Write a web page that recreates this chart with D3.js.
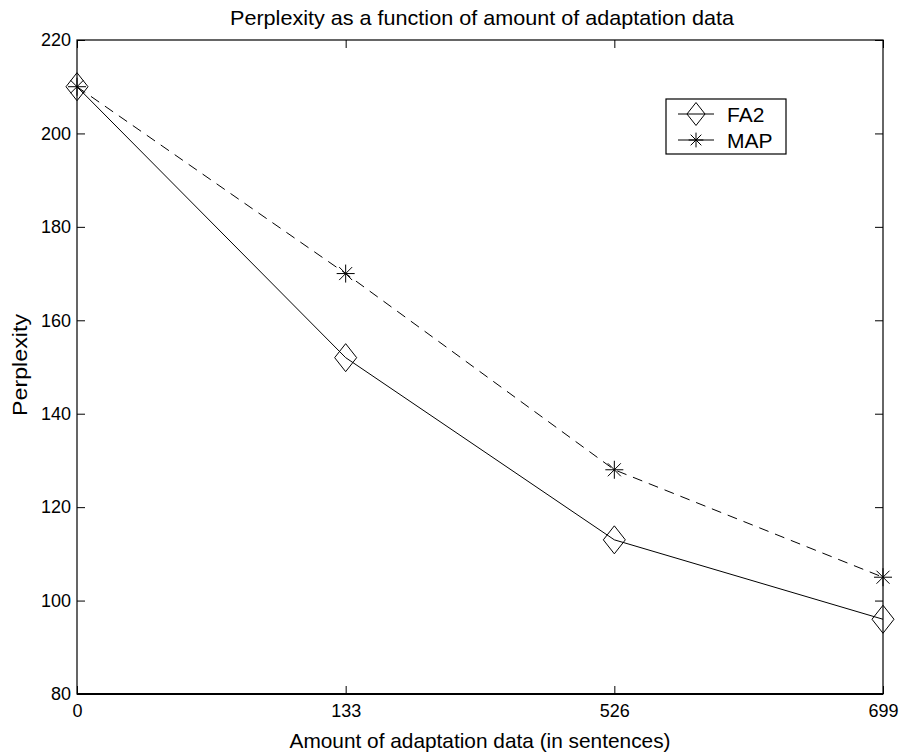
<!DOCTYPE html>
<html>
<head>
<meta charset="utf-8">
<script src="https://cdn.jsdelivr.net/npm/d3@7"></script>
<style>
  body { margin: 0; background: #fff; }
  text { font-family: "Liberation Sans", Arial, sans-serif; fill: #000; }
</style>
</head>
<body>
<div class="chart"></div>
<script>
var categories = ["0", "133", "526", "699"];
var fa2 = [210, 152, 113, 96];
var map = [210, 170, 128, 105];
var yTicks = [80, 100, 120, 140, 160, 180, 200, 220];

var W = 904, H = 756;
var margin = {top: 40, right: 21, bottom: 62, left: 77},
    width = W - margin.left - margin.right,
    height = H - margin.top - margin.bottom;

var svg = d3.select(".chart").append("svg")
  .attr("width", W).attr("height", H)
  .append("g")
  .attr("transform", "translate(" + margin.left + "," + margin.top + ")");

var x = d3.scalePoint().domain(categories).range([0, width]);
var y = d3.scaleLinear().domain([80, 220]).range([height, 0]);

// frame
svg.append("rect")
  .attr("width", width).attr("height", height)
  .attr("fill", "none").attr("stroke", "#000").attr("stroke-width", 1.2);
svg.append("line")
  .attr("x1", 0).attr("x2", width).attr("y1", height).attr("y2", height)
  .attr("stroke", "#000").attr("stroke-width", 2);

// axes, ticks point inward
function styleAxis(g) {
  g.select(".domain").remove();
  g.selectAll(".tick line").attr("stroke", "#000");
  g.selectAll(".tick text").style("font-size", "18px").attr("fill", "#000");
}
svg.append("g").attr("transform", "translate(0," + height + ")")
  .call(d3.axisBottom(x).tickSize(-8).tickPadding(10))
  .call(styleAxis);
svg.append("g")
  .call(d3.axisTop(x).tickSize(-8).tickFormat(""))
  .call(styleAxis);
svg.append("g")
  .call(d3.axisLeft(y).tickValues(yTicks).tickSize(-8).tickPadding(6))
  .call(styleAxis);
svg.append("g").attr("transform", "translate(" + width + ",0)")
  .call(d3.axisRight(y).tickValues(yTicks).tickSize(-8).tickFormat(""))
  .call(styleAxis);

// lines
var line = d3.line().x(function(d, i){ return x(categories[i]) }).y(function(d){ return y(d) });
svg.append("path").datum(map).attr("d", line)
  .attr("fill", "none").attr("stroke", "#000").attr("stroke-width", 1)
  .attr("stroke-dasharray", "10,7");
svg.append("path").datum(fa2).attr("d", line)
  .attr("fill", "none").attr("stroke", "#000").attr("stroke-width", 1);

// markers
function diamond(g, cx, cy, s) {
  s = s || 1;
  var hw = 11 * s, hh = 14 * s;
  g.append("path")
    .attr("d", "M" + cx + "," + (cy - hh) + "L" + (cx + hw) + "," + cy + "L" + cx + "," + (cy + hh) + "L" + (cx - hw) + "," + cy + "Z")
    .attr("fill", "none").attr("stroke", "#000").attr("stroke-width", 1);
}
function star(g, cx, cy, s) {
  s = s || 1;
  var r = 9 * s, d = 6.5 * s;
  g.append("path")
    .attr("d", "M" + (cx - r) + "," + cy + "H" + (cx + r) +
      "M" + cx + "," + (cy - r) + "V" + (cy + r) +
      "M" + (cx - d) + "," + (cy - d) + "L" + (cx + d) + "," + (cy + d) +
      "M" + (cx - d) + "," + (cy + d) + "L" + (cx + d) + "," + (cy - d))
    .attr("fill", "none").attr("stroke", "#000").attr("stroke-width", 1);
}
fa2.forEach(function(v, i){ diamond(svg, x(categories[i]), y(v)) });
map.forEach(function(v, i){ star(svg, x(categories[i]), y(v)) });

// legend
var lg = svg.append("g").attr("transform", "translate(" + (666 - margin.left) + "," + (99 - margin.top) + ")");
lg.append("rect").attr("width", 120).attr("height", 55)
  .attr("fill", "#fff").attr("stroke", "#000").attr("stroke-width", 1.2);
[["FA2", diamond], ["MAP", star]].forEach(function(item, i){
  var ly = 15 + i * 26;
  lg.append("line").attr("x1", 12).attr("x2", 48).attr("y1", ly).attr("y2", ly)
    .attr("stroke", "#000");
  item[1](lg, 30, ly, 0.82);
  lg.append("text").attr("x", 61).attr("y", ly + 8)
    .style("font-size", "21px").text(item[0]);
});

// titles
var root = d3.select("svg");
root.append("text").attr("x", 482).attr("y", 25).attr("text-anchor", "middle")
  .attr("textLength", 504).attr("lengthAdjust", "spacingAndGlyphs")
  .style("font-size", "21px").text("Perplexity as a function of amount of adaptation data");
root.append("text").attr("x", 480).attr("y", 748).attr("text-anchor", "middle")
  .attr("textLength", 381).attr("lengthAdjust", "spacingAndGlyphs")
  .style("font-size", "21px").text("Amount of adaptation data (in sentences)");
root.append("text").attr("transform", "translate(27,365) rotate(-90)").attr("text-anchor", "middle")
  .attr("textLength", 102).attr("lengthAdjust", "spacingAndGlyphs")
  .style("font-size", "21px").text("Perplexity");
</script>
</body>
</html>
